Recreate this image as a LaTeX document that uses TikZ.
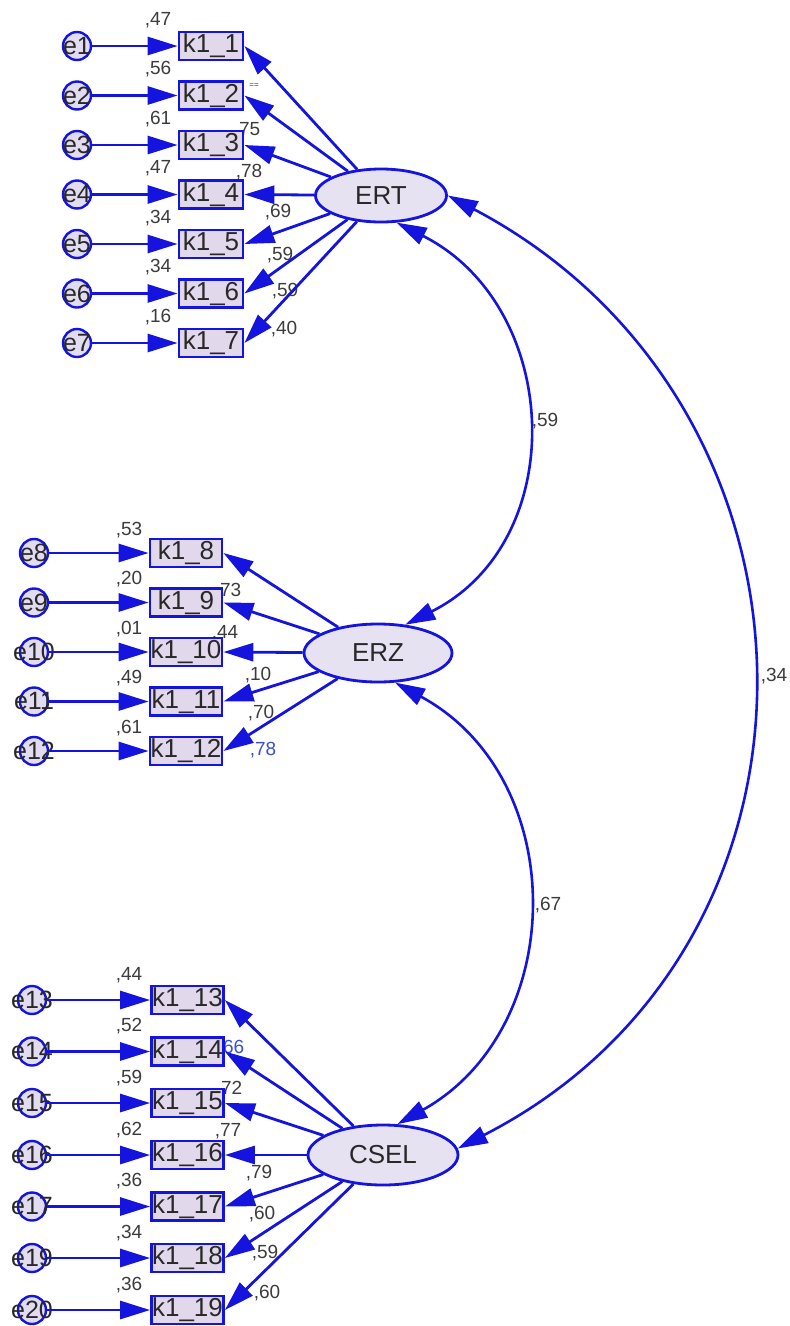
\documentclass[tikz,border=0pt]{standalone}
\usepackage{fontspec}
\setmainfont{Liberation Sans}
\usetikzlibrary{arrows.meta,shapes.geometric}

\definecolor{amosblue}{RGB}{20,20,222}
\definecolor{boxfill}{RGB}{226,216,236}
\definecolor{latfill}{RGB}{230,226,242}
\definecolor{errfill}{RGB}{226,220,240}
\definecolor{txtdark}{RGB}{40,40,40}
\definecolor{lblgray}{RGB}{60,60,60}
\definecolor{lblblue}{RGB}{60,80,205}

\begin{document}
\begin{tikzpicture}[x=1pt,y=-1pt,
  obsvar/.style={rectangle, draw=amosblue, line width=2.8pt, fill=boxfill,
    inner sep=0pt, minimum height=28pt, text=txtdark,
    font=\fontsize{26}{26}\selectfont},
  narrowbox/.style={obsvar, minimum width=64pt},
  widebox/.style={obsvar, minimum width=72pt},
  errvar/.style={circle, draw=amosblue, line width=2.4pt, fill=errfill,
    minimum size=28pt, inner sep=0pt},
  errtext/.style={text=txtdark, font=\fontsize{25}{25}\selectfont, inner sep=0pt},
  latvar/.style={ellipse, draw=amosblue, line width=2.8pt, fill=latfill,
    inner sep=0pt, text=txtdark, font=\fontsize{26}{26}\selectfont},
  regpath/.style={draw=amosblue, line width=2.8pt,
    -{Triangle[length=30pt,width=18pt]}},
  covpath/.style={draw=amosblue, line width=2.6pt,
    {Triangle[length=30pt,width=18pt]}-{Triangle[length=30pt,width=18pt]}},
  est/.style={text=lblgray, font=\fontsize{19}{19}\selectfont, inner sep=0pt},
  estblue/.style={est, text=lblblue},
]
\useasboundingbox (0,0) rectangle (790,1326);
\fill[white] (0,0) rectangle (790,1326);

% ---------- estimates (drawn first, boxes may cover them) ----------
% squared multiple correlations, ERT block
\node[est] at (158,20)    {,47};
\node[est] at (158,69.5)  {,56};
\node[est] at (158,119)   {,61};
\node[est] at (158,168.5) {,47};
\node[est] at (158,218)   {,34};
\node[est] at (158,267.5) {,34};
\node[est] at (158,317)   {,16};
% loadings, ERT block
\node[est, font=\fontsize{8}{8}\selectfont] at (254,86) {==};
\node[est] at (247,130) {,75};
\node[est] at (249,172) {,78};
\node[est] at (278,212) {,69};
\node[est] at (280,255) {,59};
\node[est] at (285,291) {,59};
\node[est] at (284,329) {,40};

% squared multiple correlations, ERZ block
\node[est] at (129,530)   {,53};
\node[est] at (129,579.5) {,20};
\node[est] at (129,629)   {,01};
\node[est] at (129,678.5) {,49};
\node[est] at (129,728)   {,61};
% loadings, ERZ block
\node[est] at (228,591) {,73};
\node[est] at (225,633) {,44};
\node[est] at (258,675) {,10};
\node[est] at (261,713) {,70};
\node[estblue] at (263,750) {,78};

% squared multiple correlations, CSEL block
\node[est] at (129,975)    {,44};
\node[est] at (129,1026.5) {,52};
\node[est] at (129,1078)   {,59};
\node[est] at (129,1130)   {,62};
\node[est] at (129,1181.5) {,36};
\node[est] at (129,1233)   {,34};
\node[est] at (129,1285)   {,36};
% loadings, CSEL block
\node[estblue] at (231,1048) {,66};
\node[est] at (229,1089) {,72};
\node[est] at (228,1131) {,77};
\node[est] at (259,1173) {,79};
\node[est] at (262,1214) {,60};
\node[est] at (265,1253) {,59};
\node[est] at (267,1293) {,60};

% covariances
\node[est] at (545,421) {,59};
\node[est] at (548,905) {,67};
\node[est] at (774,676) {,34};

% ---------- latent variables ----------
\node[latvar, minimum width=131pt, minimum height=53pt] (ERT)  at (381,195.5) {ERT};
\node[latvar, minimum width=148pt, minimum height=58pt] (ERZ)  at (378,653)   {ERZ};
\node[latvar, minimum width=150pt, minimum height=60pt] (CSEL) at (383,1155)  {CSEL};

% ---------- ERT indicators ----------
\node[errvar, label={[errtext]center:e1}] (e1) at (77,46)    {};
\node[errvar, label={[errtext]center:e2}] (e2) at (77,95.5)  {};
\node[errvar, label={[errtext]center:e3}] (e3) at (77,145)   {};
\node[errvar, label={[errtext]center:e4}] (e4) at (77,194.5) {};
\node[errvar, label={[errtext]center:e5}] (e5) at (77,244)   {};
\node[errvar, label={[errtext]center:e6}] (e6) at (77,293.5) {};
\node[errvar, label={[errtext]center:e7}] (e7) at (77,343)   {};
\node[narrowbox] (k1) at (211,46)    {k1\_1};
\node[narrowbox] (k2) at (211,95.5)  {k1\_2};
\node[narrowbox] (k3) at (211,145)   {k1\_3};
\node[narrowbox] (k4) at (211,194.5) {k1\_4};
\node[narrowbox] (k5) at (211,244)   {k1\_5};
\node[narrowbox] (k6) at (211,293.5) {k1\_6};
\node[narrowbox] (k7) at (211,343)   {k1\_7};

% ---------- ERZ indicators ----------
\node[errvar, label={[errtext]center:e8}]  (e8)  at (34,553)   {};
\node[errvar, label={[errtext]center:e9}]  (e9)  at (34,602.5) {};
\node[errvar, label={[errtext]center:e10}] (e10) at (34,652)   {};
\node[errvar, label={[errtext]center:e11}] (e11) at (34,701.5) {};
\node[errvar, label={[errtext]center:e12}] (e12) at (34,751)   {};
\node[widebox] (k8)  at (186,553)   {k1\_8};
\node[widebox] (k9)  at (186,602.5) {k1\_9};
\node[widebox] (k10) at (186,652)   {k1\_10};
\node[widebox] (k11) at (186,701.5) {k1\_11};
\node[widebox] (k12) at (186,751)   {k1\_12};

% ---------- CSEL indicators ----------
\node[errvar, label={[errtext]center:e13}] (e13) at (32,1000)   {};
\node[errvar, label={[errtext]center:e14}] (e14) at (32,1051.5) {};
\node[errvar, label={[errtext]center:e15}] (e15) at (32,1103)   {};
\node[errvar, label={[errtext]center:e16}] (e16) at (32,1155)   {};
\node[errvar, label={[errtext]center:e17}] (e17) at (32,1206.5) {};
\node[errvar, label={[errtext]center:e19}] (e19) at (32,1258)   {};
\node[errvar, label={[errtext]center:e20}] (e20) at (32,1310)   {};
\node[widebox] (k13) at (187.5,1000)   {k1\_13};
\node[widebox] (k14) at (187.5,1051.5) {k1\_14};
\node[widebox] (k15) at (187.5,1103)   {k1\_15};
\node[widebox] (k16) at (187.5,1155)   {k1\_16};
\node[widebox] (k17) at (187.5,1206.5) {k1\_17};
\node[widebox] (k18) at (187.5,1258)   {k1\_18};
\node[widebox] (k19) at (187.5,1310)   {k1\_19};

% ---------- error paths ----------
\foreach \e/\k in {e1/k1,e2/k2,e3/k3,e4/k4,e5/k5,e6/k6,e7/k7,
                   e8/k8,e9/k9,e10/k10,e11/k11,e12/k12,
                   e13/k13,e14/k14,e15/k15,e16/k16,e17/k17,e19/k18,e20/k19}
  \draw[regpath] (\e) -- (\k);

% ---------- factor loadings ----------
\foreach \k in {k1,k2,k3,k4,k5,k6,k7}
  \draw[regpath] (ERT) -- (\k.east);
\foreach \k in {k8,k9,k10,k11,k12}
  \draw[regpath] (ERZ) -- (\k.east);
\foreach \k in {k13,k14,k15,k16,k17,k18,k19}
  \draw[regpath] (CSEL) -- (\k.east);

% ---------- factor covariances ----------
\draw[covpath] (ERT.-60) .. controls (562,306) and (572,541) .. (ERZ.46);
\draw[covpath] (ERZ.-60) .. controls (571,778) and (569,1028) .. (CSEL.65);
\draw[covpath] (ERT.east) .. controls (845,405) and (855,945) .. (CSEL.5);
\end{tikzpicture}
\end{document}
